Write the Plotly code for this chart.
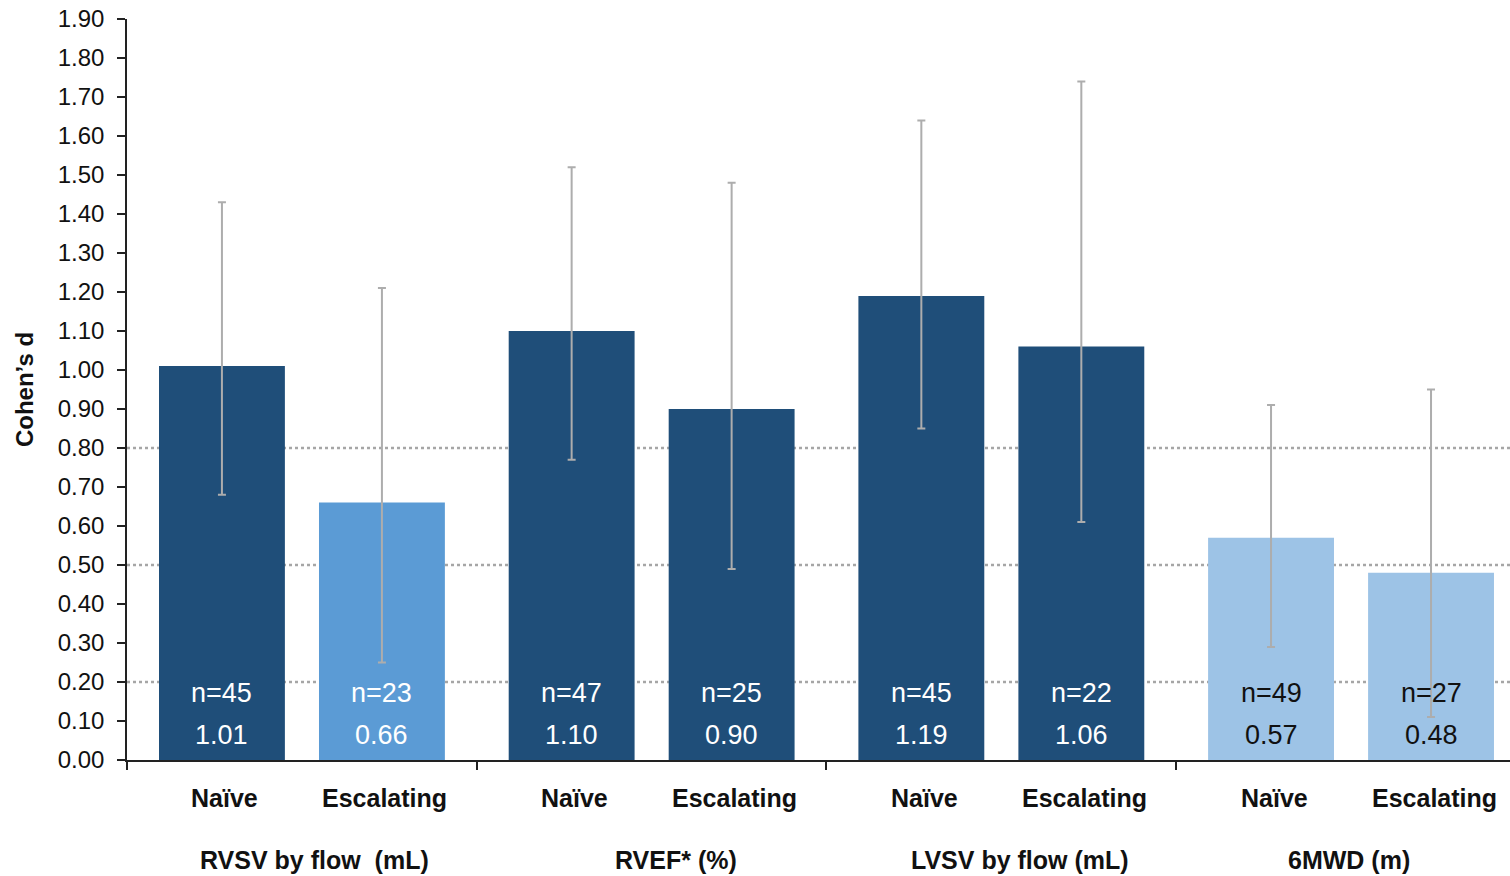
import plotly.graph_objects as go

# Effect sizes (Cohen's d) by endpoint and treatment arm
groups = ["RVSV by flow  (mL)", "RVEF* (%)", "LVSV by flow (mL)", "6MWD (m)"]
arms = ["Naïve", "Escalating"]
cohens_d = [1.01, 0.66, 1.10, 0.90, 1.19, 1.06, 0.57, 0.48]
ci_upper = [1.43, 1.21, 1.52, 1.48, 1.64, 1.74, 0.91, 0.95]
ci_lower = [0.68, 0.25, 0.77, 0.49, 0.85, 0.61, 0.29, 0.11]
n_obs = [45, 23, 47, 25, 45, 22, 49, 27]
y_ticks = [round(i * 0.1, 2) for i in range(20)]
ref_lines = [0.20, 0.50, 0.80]

DARK = "#1F4E79"
MID = "#5B9BD5"
LIGHT = "#9DC3E6"
bar_colors = [DARK, MID, DARK, DARK, DARK, DARK, LIGHT, LIGHT]
text_colors = ["white" if c != LIGHT else "#111111" for c in bar_colors]

FONT = "Liberation Sans, Arial, sans-serif"
offsets = [0.543, 1.458]
xs = [g * 2 + offsets[a] for g in range(len(groups)) for a in range(len(arms))]
# horizontal placement of the endpoint captions within each pair
group_label_x = [g * 2 + c for g, c in enumerate([1.07, 1.14, 1.11, 0.99])]

fig = go.Figure()
fig.add_trace(go.Bar(
    x=xs,
    y=cohens_d,
    width=0.72,
    marker=dict(color=bar_colors, line=dict(width=0)),
    error_y=dict(
        type="data",
        symmetric=False,
        array=[u - v for u, v in zip(ci_upper, cohens_d)],
        arrayminus=[v - l for v, l in zip(cohens_d, ci_lower)],
        color="#ADADAD",
        thickness=2,
        width=4,
    ),
    hoverinfo="skip",
))

# n and value labels inside each bar
for x, v, n, tc in zip(xs, cohens_d, n_obs, text_colors):
    fig.add_annotation(x=x, y=0, yshift=67, text=f"n={n}", showarrow=False,
                       font=dict(family=FONT, size=27, color=tc), yanchor="middle")
    fig.add_annotation(x=x, y=0, yshift=25, text=f"{v:.2f}", showarrow=False,
                       font=dict(family=FONT, size=27, color=tc), yanchor="middle")

# Arm labels under each bar
for i, x in enumerate(xs):
    fig.add_annotation(x=x, y=0, yshift=-38, xshift=3, text=arms[i % 2], showarrow=False,
                       font=dict(family=FONT, size=25, color="#111111", weight="bold"),
                       yanchor="middle")

# Endpoint labels under each pair
for gx, name in zip(group_label_x, groups):
    fig.add_annotation(x=gx, y=0, yshift=-100, text=name, showarrow=False,
                       font=dict(family=FONT, size=25, color="#111111", weight="bold"),
                       yanchor="middle")

# Dotted reference lines
for yv in ref_lines:
    fig.add_shape(type="line", xref="paper", x0=0, x1=1, y0=yv, y1=yv,
                  line=dict(color="#A6A6A6", width=2.5, dash="dot"), layer="below")

x_max = 1383 / 174.85
fig.update_layout(
    width=1510, height=876,
    margin=dict(l=127, r=0, t=19, b=116),
    plot_bgcolor="white", paper_bgcolor="white",
    showlegend=False,
    xaxis=dict(
        range=[0, x_max],
        tickvals=[0, 2, 4, 6],
        ticktext=["", "", "", ""],
        ticks="outside", ticklen=8, tickcolor="#222222", tickwidth=1.5,
        showline=True, linecolor="#222222", linewidth=1.5,
        showgrid=False, zeroline=False,
    ),
    yaxis=dict(
        range=[0, 1.90],
        tickvals=y_ticks,
        ticktext=[f"{t:.2f}" for t in y_ticks],
        ticks="outside", ticklen=8, tickcolor="#222222", tickwidth=1.5,
        showline=True, linecolor="#222222", linewidth=1.5,
        showgrid=False, zeroline=False,
        tickfont=dict(family=FONT, size=24, color="#111111"),
        ticklabelstandoff=8,
        title=dict(text="Cohen’s d", standoff=17,
                   font=dict(family=FONT, size=24, color="#111111", weight="bold")),
    ),
)

fig.write_html("out.html")
